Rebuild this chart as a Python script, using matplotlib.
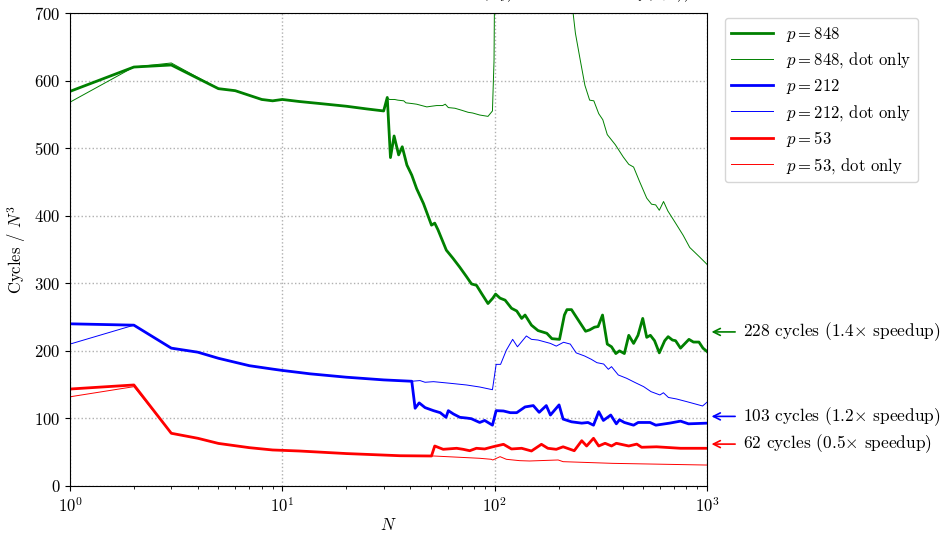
import matplotlib
matplotlib.use("Agg")
import matplotlib.pyplot as plt

plt.rcParams['font.family'] = 'cmr10'
plt.rcParams['mathtext.fontset'] = 'cm'
plt.rcParams['axes.formatter.use_mathtext'] = True
plt.rcParams['font.size'] = 12

# p = 848
n_848 = [1, 2, 3, 5, 6, 8, 9, 10, 12, 15, 20, 25, 30, 31.2, 32.3, 33.6, 35.3, 36.7, 38.6, 40.7,
         42.9, 46.2, 50.4, 52.2, 54.1, 59.2, 63.6, 68.4, 73.6, 77.8, 82.1, 86.7, 93, 98, 101, 106,
         112, 120, 127, 134, 139, 149, 160, 176, 186, 202, 213, 219, 230, 247, 268, 280, 295, 307,
         322, 339, 355, 372, 387, 408, 428, 451, 473, 498, 520, 541, 566, 596, 632, 656, 687, 711,
         750, 822, 863, 916, 957, 1000]
c_848 = [584, 620, 623, 588, 585, 572, 570, 572, 569, 566, 562, 558, 555, 575, 486, 518, 490, 502,
         475, 460, 440, 418, 386, 389, 379, 349, 337, 324, 310, 299, 297, 285, 270, 278, 284, 278,
         275, 263, 259, 248, 253, 238, 230, 226, 218, 217, 253, 261, 261, 246, 229, 231, 235, 236,
         253, 210, 206, 196, 200, 196, 223, 211, 223, 248, 220, 223, 215, 197, 215, 221, 216, 215,
         204, 217, 213, 213, 204, 199]

# p = 848, dot only
n_848_dot = [1, 2, 3, 5, 6, 8, 9, 10, 12, 15, 20, 25, 30, 31.2, 32, 33.8, 35, 37.3, 38.2, 40.7,
             42.9, 47.9, 50.4, 53.3, 56.9, 58.5, 60.5, 65, 70, 75, 78.7, 85, 93, 97.6, 99.3, 101,
             110, 130, 160, 200, 228, 234, 240, 253, 266, 280, 293, 309, 323, 339, 370, 403, 428,
             451, 482, 520, 548, 573, 596, 624, 654, 711, 772, 829, 922, 1000]
c_848_dot = [568, 620, 626, 588, 585, 572, 570, 572, 569, 566, 562, 558, 555, 574, 572, 572, 571,
             570, 567, 566, 565, 561, 562, 563, 563, 565, 560, 559, 556, 553, 552, 549, 547, 555,
             630, 950, 1100, 1150, 1100, 950, 740, 700, 670, 630, 593, 571, 570, 551, 542, 520,
             505, 487, 476, 472, 450, 426, 417, 416, 408, 421, 407, 389, 371, 353, 339, 328]

# p = 212
n_212 = [1, 2, 3, 4, 5, 7, 9, 10, 12, 13.5, 20, 30, 40.7, 42.2, 44.1, 47, 51.5, 55.4, 59, 60.5,
         63.9, 68.6, 73.6, 77.6, 85, 89.7, 93, 97.6, 101.6, 110, 118.5, 127, 139, 152, 162, 175,
         183, 201, 210, 230, 257, 275, 292, 309, 325, 352, 374, 387, 408, 451, 474, 539, 574, 666,
         750, 818, 1000]
c_212 = [240, 238, 204, 198, 189, 178, 173, 171, 168, 166, 161, 157, 155, 115, 123, 116, 111.5,
         108.5, 101.6, 111.5, 106.6, 101.6, 100.6, 99.6, 94, 97, 94, 90, 111.5, 111, 108.5, 108.5,
         117, 119, 109, 119, 105, 120, 99, 95, 93, 94, 90, 110, 97, 105, 92, 98, 94, 90, 94, 94,
         90, 93, 96, 92, 93]

# p = 212, dot only
n_212_dot = [1, 2, 3, 4, 5, 7, 9, 10, 12, 13.5, 20, 30, 40.7, 44.5, 47, 51.5, 61.7, 73.6, 85,
             97.6, 101.6, 106.6, 113.5, 121.5, 128, 141, 149, 160, 183, 195, 211, 227, 242, 265,
             285, 303, 326, 343, 355, 382, 418, 459, 503, 545, 600, 623, 658, 718, 803, 880, 953,
             1000]
c_212_dot = [210, 238, 204, 198, 189, 178, 173, 171, 168, 166, 161, 157, 155, 156, 153.5, 154.4,
             152, 149.5, 146.5, 142.5, 180, 180, 201, 217, 206, 222, 217, 216, 211, 207, 212.7,
             210, 197, 192.4, 187.5, 182.5, 180.5, 172.7, 176.6, 164.3, 159.4, 153, 147, 139.6,
             134.7, 138, 131, 128.8, 124.8, 121.4, 118.4, 124]

# p = 53
n_53 = [1, 2, 3, 4, 5, 7, 9, 12, 20, 35.8, 50.4, 52.2, 57.2, 66.2, 71, 76.3, 82, 89.7, 98, 110,
        120, 134, 149, 166, 178, 195, 210, 237, 257, 271, 292, 309, 331, 355, 374, 428, 467, 492,
        578, 750, 1000]
c_53 = [143.5, 149.5, 78, 70.6, 63, 56.7, 53.3, 51.8, 48, 44.8, 44.4, 59.2, 54.3, 55.8, 54.3,
        52.2, 55.8, 54.8, 58, 61.7, 54.8, 55.8, 51.8, 61.7, 55.8, 54.3, 58, 52.2, 67, 59.2, 70.6,
        59.2, 63.2, 59.2, 63.2, 59.2, 62, 57.3, 58, 55.8, 55.8]

# p = 53, dot only
n_53_dot = [1, 2, 3, 4, 5, 7, 9, 12, 20, 35.8, 51.5, 85, 96.4, 98, 106, 113.5, 131, 146, 199,
            210, 360, 520, 1000]
c_53_dot = [132, 147, 78, 70.6, 63, 56.7, 53.3, 51.8, 48, 44.8, 44.4, 41, 39.5, 38.5, 43.4, 39.5,
            37.5, 37, 38.5, 36, 33.5, 32.6, 31]

# annotations on the right
final_cycles = [228, 103, 62]
speedups = [1.4, 1.2, 0.5]
colors = ['g', 'b', 'r']

fig = plt.figure(figsize=(9.47, 5.34), dpi=100)
ax = fig.add_axes([0.0739, 0.0899, 0.6727, 0.8858])

ax.plot(n_848, c_848, color='g', lw=2.0, label='$p = 848$')
ax.plot(n_848_dot, c_848_dot, color='g', lw=0.7, label='$p = 848$, dot only')
ax.plot(n_212, c_212, color='b', lw=2.0, label='$p = 212$')
ax.plot(n_212_dot, c_212_dot, color='b', lw=0.7, label='$p = 212$, dot only')
ax.plot(n_53, c_53, color='r', lw=2.0, label='$p = 53$')
ax.plot(n_53_dot, c_53_dot, color='r', lw=0.7, label='$p = 53$, dot only')

ax.set_xscale('log')
ax.set_xlim(1, 1000)
ax.set_ylim(0, 700)
ax.grid(True, which='major', linestyle=':', color='#b0b0b0', lw=1)
ax.set_xlabel('$N$', labelpad=2)
ax.set_ylabel('Cycles / $N^3$')

for cyc, sp, col in zip(final_cycles, speedups, colors):
    ax.annotate('%d cycles (%.1f$\\times$ speedup)' % (cyc, sp),
                xy=(1050, cyc), xycoords='data',
                xytext=(23, 0), textcoords='offset points',
                va='center', ha='left', annotation_clip=False, fontsize=12.5,
                arrowprops=dict(arrowstyle='->', color=col, lw=1.2,
                                shrinkA=4, shrinkB=0))

ax.legend(loc='upper left', bbox_to_anchor=(1.02, 1.0), handlelength=2.5,
          labelspacing=0.4, borderaxespad=0.3, fontsize=12)

# titre coupé en haut de la figure, comme sur l'original
fig.text(0.5, 1.006, r'Timing of the generic product $(a_{ij})$ with entries in $\mathbb{F}_p(x, y))$',
         ha='center', va='baseline', fontsize=12)

plt.savefig('out.png', dpi=100)
